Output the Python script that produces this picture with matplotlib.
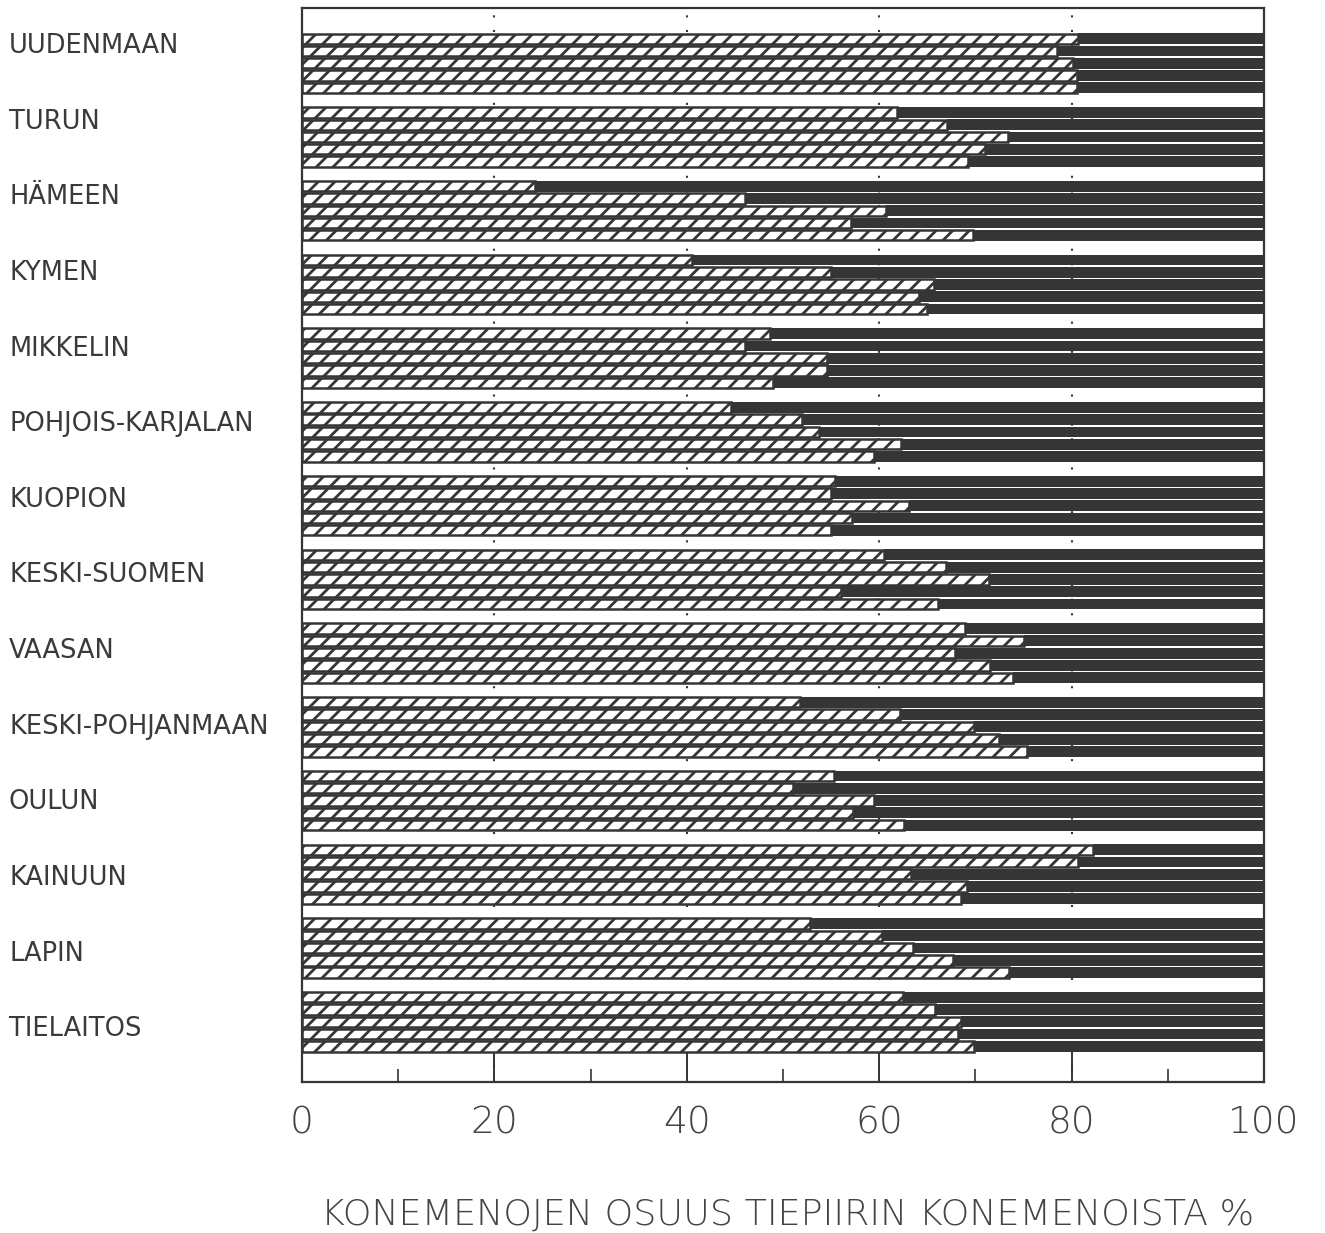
import numpy as np
import matplotlib
matplotlib.use("Agg")
import matplotlib.pyplot as plt
from matplotlib.transforms import blended_transform_factory

# tiepiirit, ylhäältä alas
districts = ["UUDENMAAN", "TURUN", "HÄMEEN", "KYMEN", "MIKKELIN",
             "POHJOIS-KARJALAN", "KUOPION", "KESKI-SUOMEN", "VAASAN",
             "KESKI-POHJANMAAN", "OULUN", "KAINUUN", "LAPIN", "TIELAITOS"]

# hatched share (%) of each district, one list per bar row in the group
share_1 = [80.7, 61.9, 24.2, 40.5, 48.6, 44.6, 55.4, 60.5, 68.9, 51.8, 55.3, 82.2, 52.8, 62.5]
share_2 = [78.5, 67.0, 46.0, 55.0, 46.0, 52.0, 55.0, 66.9, 75.1, 62.2, 51.0, 80.7, 60.3, 65.8]
share_3 = [80.1, 73.4, 60.7, 65.7, 54.6, 53.7, 63.1, 71.4, 67.9, 69.9, 59.5, 63.3, 63.5, 68.5]
share_4 = [80.6, 71.0, 57.1, 64.1, 54.6, 62.3, 57.2, 56.0, 71.5, 72.5, 57.3, 69.1, 67.7, 68.2]
share_5 = [80.6, 69.2, 69.7, 65.0, 49.0, 59.5, 55.0, 66.1, 73.9, 75.4, 62.6, 68.5, 73.5, 69.9]

x_ticks = [0, 20, 40, 60, 80, 100]
x_label = "KONEMENOJEN OSUUS TIEPIIRIN KONEMENOISTA %"

DARK = "#353535"
plt.rcParams["hatch.linewidth"] = 2.0
plt.rcParams["hatch.color"] = DARK

fig = plt.figure(figsize=(13.25, 12.33), dpi=100)
ax = fig.add_axes([302 / 1325, 1 - 1082 / 1233, 962 / 1325, 1074 / 1233])

group_pitch = 6
first = 2.0
series = [share_1, share_2, share_3, share_4, share_5]
for j, s in enumerate(series):
    s = np.array(s)
    y = first + group_pitch * np.arange(len(districts)) + j + 0.5
    ax.barh(y, s, left=0, height=0.84, color="white", edgecolor=DARK,
            hatch="//", linewidth=1.8, zorder=2)
    ax.barh(y, 100 - s, left=s, height=0.88, color=DARK, linewidth=0, zorder=3)

ax.set_xlim(0, 100)
ax.set_ylim(87.4, 0)

ax.set_xticks(x_ticks)
ax.set_xticks(range(10, 100, 20), minor=True)
ax.tick_params(axis="x", which="major", direction="in", length=21.6, width=1.4,
               color=DARK, pad=17, labelsize=27, labelcolor="#444")
ax.tick_params(axis="x", which="minor", direction="in", length=9.4, width=1.2,
               color=DARK)
for lab in ax.get_xticklabels():
    lab.set_fontweight("light")
ax.set_yticks([])

ax.set_axisbelow(True)
ax.xaxis.grid(True, which="major", linestyle=(0, (1, 6)), color=DARK, linewidth=1.5)

for sp in ax.spines.values():
    sp.set_linewidth(1.6)
    sp.set_color(DARK)

# district names, left aligned at the page edge
trans = blended_transform_factory(fig.transFigure, ax.transData)
label_y = np.linspace(3.1, 83.1, len(districts))
for name, yy in zip(districts, label_y):
    ax.text(9 / 1325, yy, name, transform=trans, ha="left", va="center",
            fontsize=18.5, color="#3a3a3a")

fig.text(788 / 1325, 1 - 1215 / 1233, x_label, ha="center", va="center",
         fontsize=26.2, color="#444", fontweight="light")

fig.savefig("out.png", dpi=100, facecolor="white")
